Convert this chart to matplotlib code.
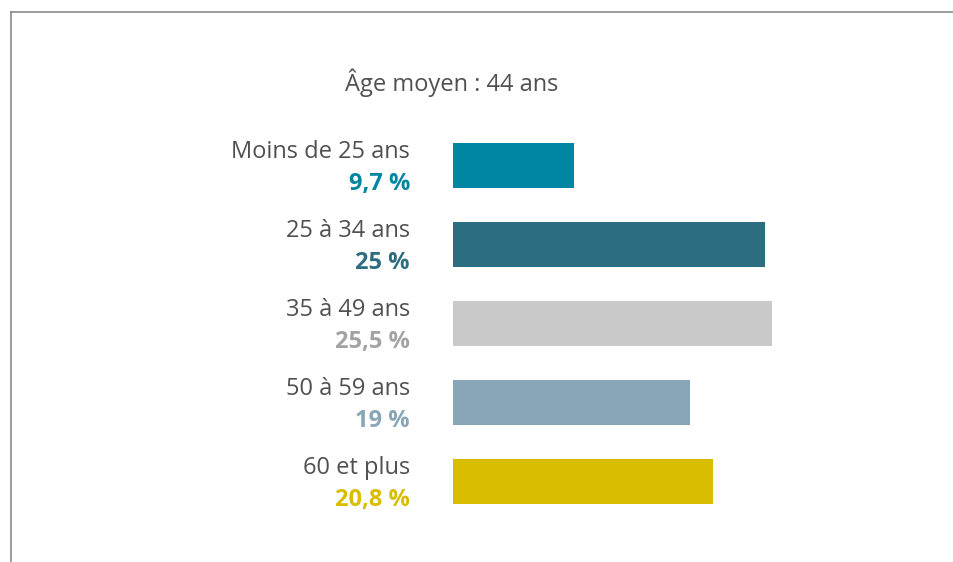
import matplotlib.pyplot as plt
import matplotlib.transforms as mtransforms
from matplotlib.lines import Line2D

# Répartition par âge
categories = ['Moins de 25 ans', '25 à 34 ans', '35 à 49 ans', '50 à 59 ans', '60 et plus']
values = [9.7, 25, 25.5, 19, 20.8]
value_labels = ['9,7 %', '25 %', '25,5 %', '19 %', '20,8 %']
bar_colors = ['#0086a3', '#2d6d80', '#c8c9c8', '#87a6b7', '#d9bd00']
text_colors = ['#0086a3', '#2d6d80', '#a3a3a3', '#87a6b7', '#d9bd00']

W, H = 954, 562
plt.rcParams['font.family'] = ['Open Sans', 'DejaVu Sans']

fig = plt.figure(figsize=(W / 100, H / 100), dpi=100)

# frame lines (top and left only)
fig.add_artist(Line2D([11 / W, 11 / W], [0, 1 - 12 / H], transform=fig.transFigure, color='#8a8a8a', lw=1.2))
fig.add_artist(Line2D([11 / W, 1], [1 - 12 / H, 1 - 12 / H], transform=fig.transFigure, color='#8a8a8a', lw=1.2))

top_px, bot_px = 126, 521
ax = fig.add_axes([453 / W, 1 - bot_px / H, 1 - 453 / W, (bot_px - top_px) / H])
ax.barh(range(len(values)), values, height=0.58, color=bar_colors)
ax.set_xlim(0, (W - 453) / 12.5)
ax.set_ylim(len(values) - 0.5, -0.5)
ax.axis('off')

trans = mtransforms.blended_transform_factory(fig.transFigure, ax.transData)
for i, (cat, lab, col) in enumerate(zip(categories, value_labels, text_colors)):
    ax.text(410 / W, i - 0.17, cat, transform=trans, ha='right', va='center',
            fontsize=17, color='#505050')
    ax.text(410 / W, i + 0.23, lab, transform=trans, ha='right', va='center',
            fontsize=17, color=col, fontweight='bold')

fig.text(452 / W, 1 - 83 / H, 'Âge moyen : 44 ans', ha='center', va='center',
         fontsize=17, color='#505050')

fig.savefig('out.png', dpi=100)
